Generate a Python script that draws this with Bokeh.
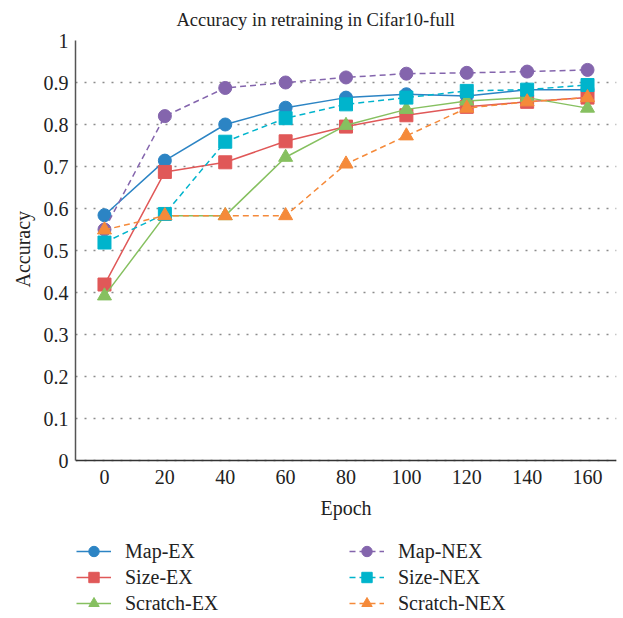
from bokeh.plotting import figure
from bokeh.models import Range1d, FixedTicker, Legend, LegendItem, Title
from bokeh.embed import file_html
from bokeh.resources import INLINE

# ---------------- data ----------------
epochs = [0, 20, 40, 60, 80, 100, 120, 140, 160]
map_ex = [0.584, 0.714, 0.800, 0.840, 0.864, 0.872, 0.868, 0.883, 0.883]
size_ex = [0.419, 0.687, 0.710, 0.760, 0.795, 0.822, 0.842, 0.854, 0.864]
scratch_ex = [0.392, 0.583, 0.583, 0.722, 0.798, 0.836, 0.856, 0.864, 0.839]
map_nex = [0.550, 0.820, 0.887, 0.900, 0.912, 0.921, 0.923, 0.926, 0.930]
size_nex = [0.519, 0.587, 0.759, 0.815, 0.848, 0.864, 0.880, 0.883, 0.894]
scratch_nex = [0.549, 0.583, 0.583, 0.583, 0.706, 0.773, 0.839, 0.854, 0.864]

series_names = ["Map-EX", "Size-EX", "Scratch-EX", "Map-NEX", "Size-NEX", "Scratch-NEX"]
series_values = [map_ex, size_ex, scratch_ex, map_nex, size_nex, scratch_nex]

x_ticks = [0, 20, 40, 60, 80, 100, 120, 140, 160]
y_ticks = [0, 0.1, 0.2, 0.3, 0.4, 0.5, 0.6, 0.7, 0.8, 0.9, 1]
y_tick_labels = ["0", "0.1", "0.2", "0.3", "0.4", "0.5", "0.6", "0.7", "0.8", "0.9", "1"]

title_text = "Accuracy in retraining in Cifar10-full"
x_label = "Epoch"
y_label = "Accuracy"

# ---------------- styles ----------------
colors = ["#2c84c4", "#e05858", "#86c060", "#8465ad", "#00b4cc", "#f58a3a"]
markers = ["circle", "square", "triangle", "circle", "square", "triangle"]
dashes = ["solid", "solid", "solid", "6 4", "6 4", "6 4"]
marker_sizes = [13, 13, 14, 13, 13, 14]
FONT = "Liberation Serif"
TEXT_COLOR = "#222222"

# ---------------- main plot ----------------
# the frame reaches down to the bottom of the page; the x axis sits at y = 0
# and the legend is drawn inside the lower strip of the frame
p = figure(width=620, height=616,
           x_range=Range1d(-9.6, 169.6), y_range=Range1d(-0.3714, 1),
           output_backend="svg", toolbar_location=None,
           min_border_left=75, min_border_right=4,
           min_border_top=40, min_border_bottom=0)

p.title.text = title_text
p.title.text_font = FONT
p.title.text_font_size = "18.5px"
p.title.text_font_style = "normal"
p.title.text_color = TEXT_COLOR
p.title.align = "left"
p.title.offset = 101
p.title.vertical_align = "top"
p.title.standoff = 17
p.title.padding = 0

p.outline_line_color = None
p.background_fill_color = "white"

p.xaxis.ticker = FixedTicker(ticks=x_ticks)
p.yaxis.ticker = FixedTicker(ticks=y_ticks)
p.yaxis.major_label_overrides = dict(zip(y_ticks, y_tick_labels))
p.xaxis.fixed_location = 0
p.yaxis.bounds = (0, 1)

for ax in (p.xaxis, p.yaxis):
    ax.major_tick_line_color = None
    ax.minor_tick_line_color = None
    ax.major_tick_out = 0
    ax.minor_tick_out = 0
    ax.major_label_text_font = FONT
    ax.major_label_text_font_size = "20px"
    ax.major_label_text_color = TEXT_COLOR
    ax.axis_label_text_font = FONT
    ax.axis_label_text_font_size = "20px"
    ax.axis_label_text_font_style = "normal"
    ax.axis_label_text_color = TEXT_COLOR
    ax.axis_line_width = 1.5

p.xaxis.axis_label = x_label
p.xaxis.axis_line_color = "#333333"
p.yaxis.axis_line_color = "#555555"
p.xaxis.major_label_standoff = 9
p.xaxis.axis_label_standoff = 10
p.yaxis.major_label_standoff = 7

# y axis title, centred on the 0..1 part of the axis
ytitle = Title(text=y_label, align="left", offset=329, standoff=13,
               text_font=FONT, text_font_size="20px", text_font_style="normal",
               text_color=TEXT_COLOR)
p.add_layout(ytitle, "left")

p.xgrid.visible = False
p.ygrid.ticker = p.yaxis.ticker
p.ygrid.grid_line_color = "#8c8c8c"
p.ygrid.grid_line_dash = "2 7"
p.ygrid.grid_line_width = 1.5

items = []
for name, vals, c, m, d, s in zip(series_names, series_values, colors, markers, dashes, marker_sizes):
    r1 = p.line(epochs, vals, line_color=c, line_width=1.5, line_dash=d)
    r2 = p.scatter(epochs, vals, marker=m, size=s, fill_color=c, line_color=c)
    items.append(LegendItem(label=name, renderers=[r1, r2]))

lg = Legend(items=items, location=(1, 0), ncols=2)
lg.label_text_font = FONT
lg.label_text_font_size = "20px"
lg.label_text_color = TEXT_COLOR
lg.glyph_width = 35
lg.glyph_height = 26
lg.label_height = 20
lg.label_width = 224
lg.spacing = 0
lg.label_standoff = 14
lg.padding = 0
lg.margin = 0
lg.border_line_alpha = 0
lg.background_fill_alpha = 0
p.add_layout(lg, "center")

open("out.html", "w").write(file_html(p, INLINE))
